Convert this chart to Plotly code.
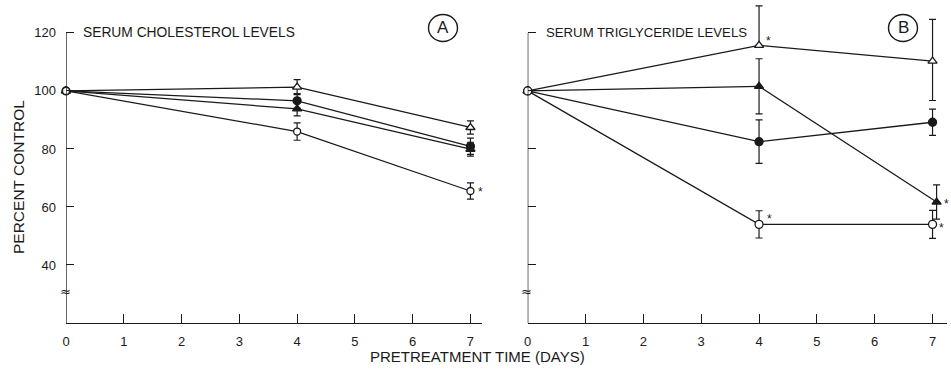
import plotly.graph_objects as go

# ---------------- data ----------------
days = [0, 4, 7]
x_ticks = [0, 1, 2, 3, 4, 5, 6, 7]
y_ticks = [40, 60, 80, 100, 120]
y_tick_labels = ["40", "60", "80", "100", "120"]

# Panel A - serum cholesterol (percent control)
chol_open_tri = [100, 101.3, 87.4]
chol_open_tri_err = [None, 2.6, 2.3]
chol_filled_circ = [100, 96.6, 80.9]
chol_filled_circ_err = [None, 2.5, 2.8]
chol_filled_tri = [100, 93.8, 79.9]
chol_filled_tri_err = [None, 2.4, 2.4]
chol_open_circ = [100, 86.0, 65.5]
chol_open_circ_err = [None, 3.0, 2.8]
chol_open_circ_sig = [False, False, True]

# Panel B - serum triglyceride (percent control)
tg_open_tri = [100, 115.7, 110.3]
tg_open_tri_err_up = [None, 13.6, 14.4]
tg_open_tri_err_down = [None, 0, 13.6]
tg_open_tri_sig = [False, True, False]
tg_filled_tri_days = [0, 4, 7.07]
tg_filled_tri = [100, 101.6, 61.7]
tg_filled_tri_err = [None, 9.5, 5.9]
tg_filled_tri_sig = [False, False, True]
tg_filled_circ = [100, 82.5, 89.2]
tg_filled_circ_err = [None, 7.5, 4.5]
tg_open_circ = [100, 54.0, 54.0]
tg_open_circ_err = [None, 4.7, 4.8]
tg_open_circ_sig = [False, True, True]

FONT = "Liberation Sans"
INK = "#1a1a1a"
W, H = 951, 370
ML, MR, MT, MB = 66, 4, 1, 47

fig = go.Figure()


def series(xs, ys, err, symbol, filled, xa, ya, err_down=None, size=8):
    ey = dict(type="data", array=err, visible=True, color=INK, thickness=1.2, width=3.5)
    if err_down is not None:
        ey.update(symmetric=False, arrayminus=err_down)
    fig.add_trace(go.Scatter(
        x=xs, y=ys, mode="lines+markers",
        line=dict(color=INK, width=1.3),
        marker=dict(symbol=symbol, size=size,
                    color=INK if filled else "white",
                    line=dict(color=INK, width=1.3)),
        error_y=ey, xaxis=xa, yaxis=ya, showlegend=False, hoverinfo="skip",
        cliponaxis=False))


def stars(xs, ys, sig, shifts, xa, ya):
    for x, y, s, (dx, dy) in zip(xs, ys, sig, shifts):
        if s:
            fig.add_annotation(xref=xa, yref=ya, x=x, y=y, text="*", showarrow=False,
                               xanchor="center", yanchor="middle", xshift=dx, yshift=dy,
                               font=dict(family=FONT, size=12, color=INK))


# Panel A
series(days, chol_open_tri, chol_open_tri_err, "triangle-up", False, "x", "y")
series(days, chol_filled_circ, chol_filled_circ_err, "circle", True, "x", "y")
series(days, chol_filled_tri, chol_filled_tri_err, "triangle-up", True, "x", "y")
series(days, chol_open_circ, chol_open_circ_err, "circle", False, "x", "y", size=7)
stars(days, chol_open_circ, chol_open_circ_sig, [(0, 0), (0, 0), (10, -1)], "x", "y")

# Panel B
series(days, tg_open_tri, tg_open_tri_err_up, "triangle-up", False, "x2", "y2",
       err_down=tg_open_tri_err_down)
series(tg_filled_tri_days, tg_filled_tri, tg_filled_tri_err, "triangle-up", True, "x2", "y2")
series(days, tg_filled_circ, tg_filled_circ_err, "circle", True, "x2", "y2")
series(days, tg_open_circ, tg_open_circ_err, "circle", False, "x2", "y2", size=8)
stars(days, tg_open_tri, tg_open_tri_sig, [(0, 0), (9, 4), (0, 0)], "x2", "y2")
stars(tg_filled_tri_days, tg_filled_tri, tg_filled_tri_sig, [(0, 0), (0, 0), (10, -2)], "x2", "y2")
stars(days, tg_open_circ, tg_open_circ_sig, [(0, 0), (10, 5), (9, -4)], "x2", "y2")

PW = W - ML - MR
PH = H - MT - MB


def px_x(p):
    return (p - ML) / PW


def px_y(p):
    return (H - MB - p) / PH


xcommon = dict(tickvals=x_ticks, ticks="inside", ticklen=9, tickwidth=1.2, tickcolor=INK,
               showline=True, linecolor=INK, linewidth=1.4, showgrid=False, zeroline=False,
               tickfont=dict(family=FONT, size=13, color=INK), ticklabelstandoff=6,
               automargin=False)
ycommon = dict(range=[20, 131], tickvals=y_ticks, ticktext=y_tick_labels, ticks="inside",
               ticklen=8, tickwidth=1.2, tickcolor=INK, showline=False, showgrid=False,
               zeroline=False, tickfont=dict(family=FONT, size=13, color=INK),
               ticklabelstandoff=9, automargin=False)

fig.update_layout(
    width=W, height=H, autosize=False,
    margin=dict(l=ML, r=MR, t=MT, b=MB, autoexpand=False),
    paper_bgcolor="white", plot_bgcolor="white",
    font=dict(family=FONT, color=INK),
    xaxis=dict(domain=[0, px_x(482)], range=[0, 7.2], anchor="y", **xcommon),
    yaxis=dict(domain=[0, 1], anchor="x", **ycommon),
    xaxis2=dict(domain=[px_x(527.7), 1], range=[0, 7.25], anchor="y2", **xcommon),
    yaxis2=dict(domain=[0, 1], anchor="x2", showticklabels=False, **ycommon),
)

# vertical axis lines (from the break up to 120)
for xr, yr in (("x", "y"), ("x2", "y2")):
    fig.add_shape(type="line", xref=xr, yref=yr, x0=0, x1=0, y0=20, y1=120,
                  line=dict(color=INK, width=1.3))
    fig.add_annotation(xref=xr, yref=yr, x=0, y=31, text="≈", showarrow=False,
                       font=dict(family="DejaVu Sans", size=13, color=INK), xshift=-1)

# panel titles
fig.add_annotation(xref="x", yref="y", x=0, y=120, text="SERUM CHOLESTEROL LEVELS",
                   showarrow=False, xanchor="left", yanchor="middle", xshift=15,
                   font=dict(family=FONT, size=13.8, color=INK))
fig.add_annotation(xref="x2", yref="y2", x=0, y=120, text="SERUM TRIGLYCERIDE LEVELS",
                   showarrow=False, xanchor="left", yanchor="middle", xshift=16,
                   font=dict(family=FONT, size=13.2, color=INK))

# circled panel letters
for letter, cx, cy in (("A", 443, 28), ("B", 903, 28)):
    fig.add_shape(type="circle", xref="paper", yref="paper",
                  x0=px_x(cx - 14.5), x1=px_x(cx + 14.5), y0=px_y(cy + 13.5), y1=px_y(cy - 13.5),
                  line=dict(color=INK, width=1.4))
    fig.add_annotation(xref="paper", yref="paper", x=px_x(cx), y=px_y(cy), text=letter,
                       showarrow=False, xanchor="center", yanchor="middle",
                       font=dict(family=FONT, size=17, color=INK))

# axis titles
fig.add_annotation(xref="paper", yref="paper", x=px_x(477), y=px_y(356),
                   text="PRETREATMENT TIME (DAYS)", showarrow=False,
                   xanchor="center", yanchor="middle",
                   font=dict(family=FONT, size=15, color=INK))
fig.add_annotation(xref="paper", yref="paper", x=px_x(19), y=px_y(177),
                   text="PERCENT CONTROL", showarrow=False, textangle=-90,
                   xanchor="center", yanchor="middle",
                   font=dict(family=FONT, size=15.5, color=INK))

fig.write_html("out.html", config={"displayModeBar": False},
               post_script="document.body.style.margin='0';document.body.style.overflow='hidden';")
